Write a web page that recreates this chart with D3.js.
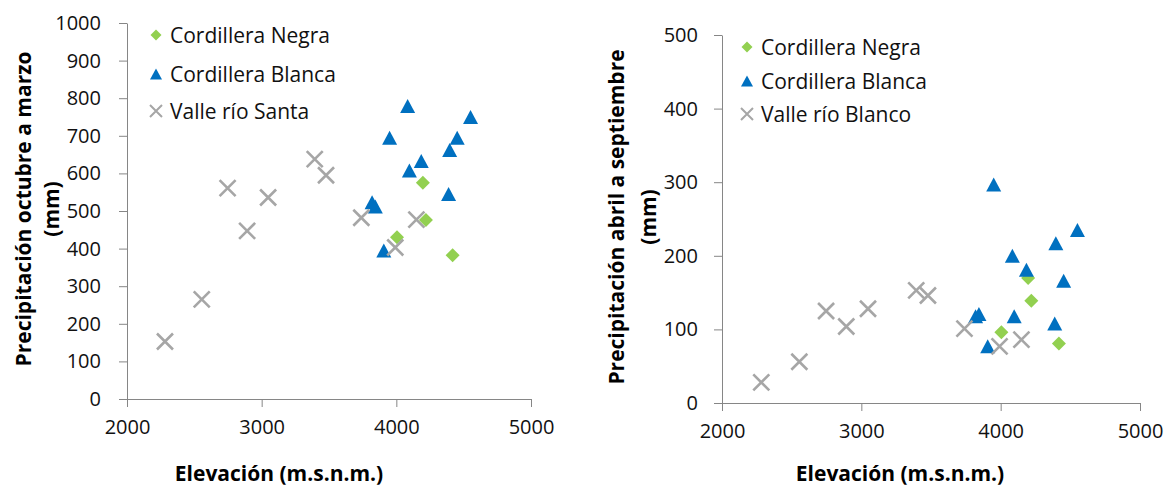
<!DOCTYPE html>
<html>
  <head>
    <meta charset="utf-8">
    <title>Precipitación vs elevación</title>
    <script src="https://d3js.org/d3.v7.min.js"></script>
    <style>
      body { margin: 0; background: #fff; }
      svg { font-family: "Open Sans", Lato, sans-serif; }
    </style>
  </head>
  <body>
    <div id="chart"></div>
    <script>
      // Station data (elevation in m.s.n.m., precipitation in mm)
      const elevNegra = [4005, 4197, 4220, 4418];
      const negraOctMar = [430, 575, 476, 382];
      const negraAbrSep = [96, 170, 139, 81];

      const elevBlanca = [3820, 3844, 3907, 3950, 4084, 4097, 4185, 4388, 4396, 4452, 4551];
      const blancaOctMar = [523, 512, 395, 695, 779, 608, 633, 545, 662, 695, 750];
      const blancaAbrSep = [118, 121, 77, 297, 200, 118, 181, 108, 217, 166, 235];

      const elevValle = [2282, 2555, 2747, 2892, 3048, 3394, 3478, 3740, 3992, 4149];
      const valleOctMar = [153, 265, 561, 447, 536, 638, 595, 482, 403, 477];
      const valleAbrSep = [28, 56, 125, 104, 128, 153, 146, 101, 77, 86];

      const xTicks = [2000, 3000, 4000, 5000];
      const yTicksLeft = [0, 100, 200, 300, 400, 500, 600, 700, 800, 900, 1000];
      const yTicksRight = [0, 100, 200, 300, 400, 500];

      const colors = { negra: '#92d050', blanca: '#0070c0', valle: '#a6a6a6' };
      const axisColor = '#868686';

      const svg = d3.select('#chart')
        .append('svg')
        .attr('width', 1171)
        .attr('height', 488);

      // marker shapes, drawn around (0,0)
      function diamond(r) {
        return `M0,${-r}L${r},0L0,${r}L${-r},0Z`;
      }
      function triangle(w, h) {
        return `M0,${-h / 2}L${w / 2},${h / 2}L${-w / 2},${h / 2}Z`;
      }
      function cross(r) {
        return `M${-r},${-r}L${r},${r}M${-r},${r}L${r},${-r}`;
      }

      function drawMarker(g, kind, big) {
        if (kind === 'negra') {
          g.append('path').attr('d', diamond(big ? 7 : 5.5)).attr('fill', colors.negra);
        } else if (kind === 'blanca') {
          g.append('path').attr('d', big ? triangle(15, 14) : triangle(12, 11)).attr('fill', colors.blanca);
        } else {
          g.append('path').attr('d', cross(big ? 8 : 6))
            .attr('stroke', colors.valle).attr('stroke-width', big ? 2.6 : 2).attr('fill', 'none');
        }
      }

      function drawChart(opt) {
        const x = d3.scaleLinear().domain([2000, 5000]).range(opt.xRange);
        const y = d3.scaleLinear().domain(opt.yDomain).range(opt.yRange);
        const g = svg.append('g');

        // y axis
        const yAxis = g.append('g')
          .attr('transform', `translate(${opt.xRange[0]},0)`)
          .call(d3.axisLeft(y).tickValues(opt.yTicks).tickSize(8).tickSizeOuter(0)
            .tickPadding(opt.yPad).tickFormat(d3.format('d')));
        // x axis
        const xAxis = g.append('g')
          .attr('transform', `translate(0,${opt.yRange[0]})`)
          .call(d3.axisBottom(x).tickValues(xTicks).tickSize(8).tickSizeOuter(0)
            .tickPadding(13).tickFormat(d3.format('d')));

        [yAxis, xAxis].forEach(a => {
          a.select('.domain').attr('stroke', axisColor);
          a.selectAll('.tick line').attr('stroke', axisColor);
          a.selectAll('.tick text').attr('fill', '#111')
            .style('font-family', '"Open Sans", sans-serif').style('font-size', '20px');
        });

        // series: Negra first, then Blanca, then Valle on top
        const series = [
          { kind: 'negra', xs: elevNegra, ys: opt.negra },
          { kind: 'blanca', xs: elevBlanca, ys: opt.blanca },
          { kind: 'valle', xs: elevValle, ys: opt.valle }
        ];
        series.forEach(s => {
          s.xs.forEach((e, i) => {
            const m = g.append('g').attr('transform', `translate(${x(e)},${y(s.ys[i])})`);
            drawMarker(m, s.kind, true);
          });
        });

        // legend
        opt.legend.forEach((label, i) => {
          const ly = opt.legendY[i];
          const m = g.append('g').attr('transform', `translate(${opt.legendX},${ly})`);
          drawMarker(m, series[i].kind, false);
          g.append('text')
            .attr('x', opt.legendX + 14)
            .attr('y', ly)
            .attr('dy', '0.36em')
            .style('font-size', '21px')
            .attr('fill', '#111')
            .text(label);
        });

        // axis titles
        g.append('text')
          .attr('x', opt.xTitleX)
          .attr('y', opt.xTitleY)
          .attr('text-anchor', 'middle')
          .style('font-size', '21px')
          .style('font-weight', 'bold')
          .text('Elevación (m.s.n.m.)');

        opt.yTitle.forEach((line, i) => {
          g.append('text')
            .attr('transform', `translate(${opt.yTitleX[i]},${opt.yTitleY}) rotate(-90)`)
            .attr('text-anchor', 'middle')
            .style('font-size', '21px')
            .style('font-weight', 'bold')
            .text(line);
        });
      }

      drawChart({
        xRange: [127, 531],
        yDomain: [0, 1000],
        yRange: [399, 23],
        yTicks: yTicksLeft,
        yPad: 18,
        negra: negraOctMar,
        blanca: blancaOctMar,
        valle: valleOctMar,
        legend: ['Cordillera Negra', 'Cordillera Blanca', 'Valle río Santa'],
        legendX: 156,
        legendY: [35, 74, 111],
        xTitleX: 279,
        xTitleY: 481,
        yTitle: ['Precipitación octubre a marzo', '(mm)'],
        yTitleX: [31, 59],
        yTitleY: 209
      });

      drawChart({
        xRange: [722, 1140],
        yDomain: [0, 500],
        yRange: [403, 35],
        yTicks: yTicksRight,
        yPad: 16,
        negra: negraAbrSep,
        blanca: blancaAbrSep,
        valle: valleAbrSep,
        legend: ['Cordillera Negra', 'Cordillera Blanca', 'Valle río Blanco'],
        legendX: 747,
        legendY: [47, 81, 114],
        xTitleX: 900,
        xTitleY: 481,
        yTitle: ['Precipitación abril a septiembre', '(mm)'],
        yTitleX: [624, 656],
        yTitleY: 217
      });
    </script>
  </body>
</html>
